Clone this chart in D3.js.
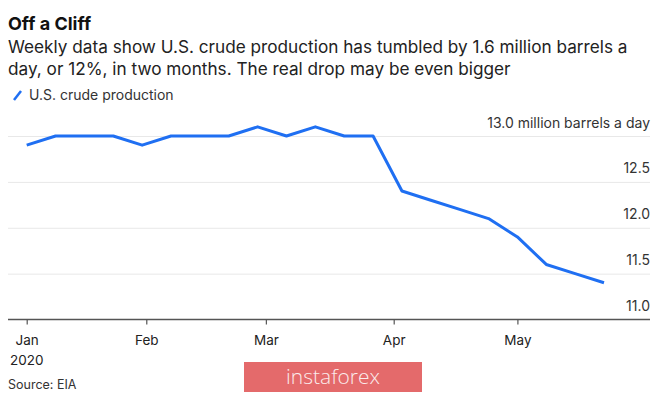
<!DOCTYPE html>
<html>
<head>
<meta charset="utf-8">
<script src="https://cdn.jsdelivr.net/npm/d3@7"></script>
<style>
  body { margin: 0; background: #fff; }
  text { font-family: Inter, "Liberation Sans", Arial, sans-serif; }
</style>
</head>
<body>
<div id="chart"></div>
<script>
// Weekly U.S. crude production, million barrels a day (EIA)
var weeks = ["2020-01-03", "2020-01-10", "2020-01-17", "2020-01-24", "2020-01-31",
  "2020-02-07", "2020-02-14", "2020-02-21", "2020-02-28", "2020-03-06",
  "2020-03-13", "2020-03-20", "2020-03-27", "2020-04-03", "2020-04-10",
  "2020-04-17", "2020-04-24", "2020-05-01", "2020-05-08", "2020-05-15", "2020-05-22"];
var production = [12.9, 13.0, 13.0, 13.0, 12.9, 13.0, 13.0, 13.0, 13.1, 13.0,
  13.1, 13.0, 13.0, 12.4, 12.3, 12.2, 12.1, 11.9, 11.6, 11.5, 11.4];

var yTicks = [11.0, 11.5, 12.0, 12.5, 13.0];
var monthTicks = ["2020-01-03", "2020-02-01", "2020-03-01", "2020-04-01", "2020-05-01"];
var monthLabels = ["Jan", "Feb", "Mar", "Apr", "May"];

var w = 665;
var h = 393;
var parse = d3.timeParse("%Y-%m-%d");

var data = weeks.map(function(d, i) {
  return { date: parse(d), value: production[i] };
});

var svg = d3.select("#chart")
  .append("svg")
  .attr("width", w)
  .attr("height", h);

// Scales
var xScale = d3.scaleTime()
  .domain([parse(weeks[0]), parse(weeks[weeks.length - 1])])
  .range([26.7, 604]);

var yScale = d3.scaleLinear()
  .domain([11, 13])
  .range([319.5, 136]);

// Title and subtitle
svg.append("text")
  .attr("x", 8)
  .attr("y", 30)
  .style("font-size", "18px")
  .style("font-weight", "bold")
  .attr("fill", "#111")
  .text("Off a Cliff");

var sub = ["Weekly data show U.S. crude production has tumbled by 1.6 million barrels a",
  "day, or 12%, in two months. The real drop may be even bigger"];
svg.selectAll(".sub")
  .data(sub)
  .enter()
  .append("text")
  .attr("class", "sub")
  .attr("x", 8)
  .attr("y", (d, i) => 53 + i * 21.5)
  .style("font-size", "17.2px")
  .attr("fill", "#222")
  .text(d => d);

// Legend
svg.append("line")
  .attr("x1", 14).attr("y1", 100)
  .attr("x2", 21).attr("y2", 91)
  .attr("stroke", "#1f6ff2")
  .attr("stroke-width", 2.5);
svg.append("text")
  .attr("x", 29)
  .attr("y", 100)
  .style("font-size", "14px")
  .attr("fill", "#333")
  .text("U.S. crude production");

// Y axis with gridlines
var yAxis = d3.axisLeft(yScale)
  .tickValues(yTicks.slice(1))
  .tickSize(642)
  .tickFormat(d3.format(".1f"));

var yG = svg.append("g")
  .attr("transform", "translate(650,0)")
  .call(yAxis);
yG.select(".domain").remove();
yG.selectAll(".tick line").attr("stroke", "#e8e8e8");
yG.selectAll(".tick text")
  .attr("x", 0)
  .attr("dy", -9)
  .attr("text-anchor", "end")
  .style("font-size", "14px")
  .attr("fill", "#333")
  .text(d => d === 13 ? "13.0 million barrels a day" : d3.format(".1f")(d));

// Bottom label for 11.0
svg.append("text")
  .attr("x", 650)
  .attr("y", yScale(11) - 9)
  .attr("text-anchor", "end")
  .style("font-size", "14px")
  .attr("fill", "#333")
  .text(d3.format(".1f")(yTicks[0]));

// X axis
var xAxis = d3.axisBottom(xScale)
  .tickValues(monthTicks.map(parse))
  .tickSize(5)
  .tickPadding(11)
  .tickFormat((d, i) => monthLabels[i]);

var xG = svg.append("g")
  .attr("transform", "translate(0," + yScale(11) + ")")
  .call(xAxis);
xG.select(".domain").remove();
xG.append("line")
  .attr("x1", 8).attr("x2", 650)
  .attr("stroke", "#555")
  .attr("stroke-width", 1.5);
xG.selectAll(".tick line").attr("stroke", "#555").attr("stroke-width", 1.2);
xG.selectAll(".tick text")
  .style("font-size", "13.5px")
  .attr("fill", "#222");

svg.append("text")
  .attr("x", xScale(parse(monthTicks[0])))
  .attr("y", 365)
  .attr("text-anchor", "middle")
  .style("font-size", "13.5px")
  .attr("fill", "#222")
  .text("2020");

// Line
var line = d3.line()
  .x(d => xScale(d.date))
  .y(d => yScale(d.value));

svg.append("path")
  .datum(data)
  .attr("fill", "none")
  .attr("stroke", "#1f6ff2")
  .attr("stroke-width", 3)
  .attr("stroke-linejoin", "round")
  .attr("d", line);

// Source
svg.append("text")
  .attr("x", 8)
  .attr("y", 389)
  .style("font-size", "12.5px")
  .attr("fill", "#333")
  .text("Source: EIA");

// Watermark
svg.append("rect")
  .attr("x", 244).attr("y", 362)
  .attr("width", 178).attr("height", 30)
  .attr("fill", "#e46a6b");
svg.append("text")
  .attr("x", 333)
  .attr("y", 384)
  .attr("text-anchor", "middle")
  .style("font-size", "21px")
  .style("font-family", "'Open Sans', sans-serif")
  .style("font-weight", 300)
  .attr("fill", "#fbecec")
  .text("instaforex");
</script>
</body>
</html>
